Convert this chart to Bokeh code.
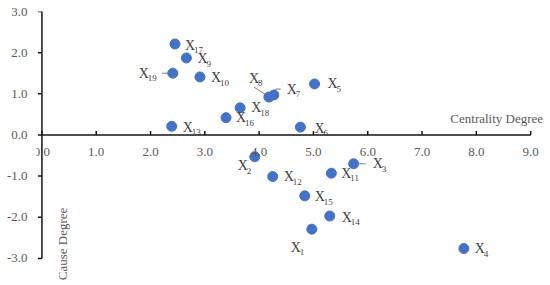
import math
from bokeh.plotting import figure
from bokeh.models import Range1d, FixedTicker, Label, ColumnDataSource
from bokeh.core.properties import value
from bokeh.embed import file_html
from bokeh.resources import INLINE

# ---- data ----
factors = ["1", "2", "3", "4", "5", "6", "7", "8", "9", "10",
           "11", "12", "13", "14", "15", "16", "17", "18", "19"]
centrality = [4.97, 3.92, 5.74, 7.77, 5.02, 4.76, 4.27, 4.18, 2.66, 2.91,
              5.33, 4.25, 2.39, 5.30, 4.84, 3.39, 2.45, 3.65, 2.41]
cause = [-2.29, -0.53, -0.70, -2.76, 1.24, 0.19, 0.97, 0.92, 1.87, 1.41,
         -0.93, -1.01, 0.21, -1.97, -1.48, 0.42, 2.21, 0.66, 1.50]
x_ticks = [0, 1, 2, 3, 4, 5, 6, 7, 8, 9]
x_tick_labels = ["0.0", "1.0", "2.0", "3.0", "4.0", "5.0", "6.0", "7.0", "8.0", "9.0"]
y_ticks = [-3, -2, -1, 0, 1, 2, 3]
y_tick_labels = ["-3.0", "-2.0", "-1.0", "0.0", "1.0", "2.0", "3.0"]
x_title = "Centrality Degree"
y_title = "Cause Degree"

# ---- layout / style ----
PXX = 54.33          # px per unit on x
PXY = 41.17          # px per unit on y
XR = (-0.1, 9.31)    # frame range (axis drawn 0..9)
YR = (-3.61, 3)      # frame range (axis drawn -3..3)
TICK = 4             # tick length, px
FONT = "Liberation Serif"
DOT = "#4472C4"
LBL = "#404040"
TCK = "#595959"
AXC = "#141414"

# label offsets (screen px) of the "X" left edge relative to the point
label_off = {
    "1": (-21, 18), "2": (-17, 9), "3": (19, 0), "4": (11, 0), "5": (13, 0),
    "6": (14, 1), "7": (13, -6), "8": (-20, -19), "9": (11, 1), "10": (11, 1),
    "11": (10, 0), "12": (11, 0), "13": (11, 1), "14": (12, 1), "15": (10, 1),
    "16": (10, 0), "17": (10, 1), "18": (11, 0), "19": (-34, 0),
}
# leader lines (screen px polyline relative to the point)
leaders = {
    "19": [(-11, 0), (-2, 0)],
    "8": [(-15, -10), (-1, -1)],
    "7": [(7, -6), (2, -6), (2, -1)],
    "3": [(2, 0), (12, 0)],
}

FW = round((XR[1] - XR[0]) * PXX)
FH = round((YR[1] - YR[0]) * PXY)
p = figure(frame_width=FW, frame_height=FH, output_backend="svg", toolbar_location=None,
           x_range=Range1d(*XR), y_range=Range1d(*YR),
           min_border_left=36, min_border_right=3, min_border_top=11, min_border_bottom=2)
p.outline_line_color = None
p.xgrid.grid_line_color = None
p.ygrid.grid_line_color = None

# Bokeh axes supply the tick labels
xa = p.xaxis[0]
xa.fixed_location = 0
xa.ticker = FixedTicker(ticks=x_ticks)
xa.major_label_overrides = {t: l for t, l in zip(x_ticks, x_tick_labels)}
xa.major_label_standoff = 13
ya = p.yaxis[0]
ya.ticker = FixedTicker(ticks=y_ticks)
ya.major_label_overrides = {t: l for t, l in zip(y_ticks, y_tick_labels)}
ya.major_label_standoff = 9
for ax in (xa, ya):
    ax.major_tick_in = 0
    ax.major_tick_out = 0
    ax.minor_tick_in = 0
    ax.minor_tick_out = 0
    ax.axis_line_color = None
    ax.major_tick_line_color = None
    ax.minor_tick_line_color = None
    ax.major_label_text_font = FONT
    ax.major_label_text_font_size = "13px"
    ax.major_label_text_color = TCK

# axis lines and tick marks, drawn through the plot scales
p.segment(x0=[x_ticks[0], 0], y0=[0, y_ticks[0]], x1=[x_ticks[-1], 0], y1=[0, y_ticks[-1]],
          line_color=AXC, line_width=1.5)
p.segment(x0=x_ticks, y0=[0] * len(x_ticks), x1=x_ticks, y1=[TICK / PXY] * len(x_ticks),
          line_color=AXC, line_width=1.5)
p.segment(x0=[0] * len(y_ticks), y0=y_ticks, x1=[-TICK / PXX] * len(y_ticks), y1=y_ticks,
          line_color=AXC, line_width=1.5)

# leaders
lx, ly = [], []
for f, pts in leaders.items():
    i = factors.index(f)
    lx.append([centrality[i] + dx / PXX for dx, dy in pts])
    ly.append([cause[i] - dy / PXY for dx, dy in pts])
p.multi_line(lx, ly, line_color="#7f7f7f", line_width=1)

p.scatter(centrality, cause, size=10, fill_color=DOT, line_color=DOT)

src = ColumnDataSource(dict(
    x=centrality, y=cause, main=["X"] * len(factors), sub=factors,
    dx=[label_off[f][0] for f in factors], dy=[label_off[f][1] for f in factors],
    sdx=[label_off[f][0] + 9 for f in factors], sdy=[label_off[f][1] + 5 for f in factors],
))
p.text(x="x", y="y", text="main", x_offset="dx", y_offset="dy", source=src,
       text_font=value(FONT), text_font_size="14px", text_color=LBL,
       text_align="left", text_baseline="middle")
p.text(x="x", y="y", text="sub", x_offset="sdx", y_offset="sdy", source=src,
       text_font=value(FONT), text_font_size="9px", text_color=LBL,
       text_align="left", text_baseline="middle")

p.add_layout(Label(x=8.375, y=0.39, text=x_title, text_font=FONT, text_font_size="13px",
                   text_color=TCK, text_align="center", text_baseline="middle"))
p.add_layout(Label(x=0.387, y=-2.65, text=y_title, text_font=FONT, text_font_size="13px",
                   text_color=TCK, text_align="center", text_baseline="middle",
                   angle=math.pi / 2))

open("out.html", "w").write(file_html(p, INLINE))
